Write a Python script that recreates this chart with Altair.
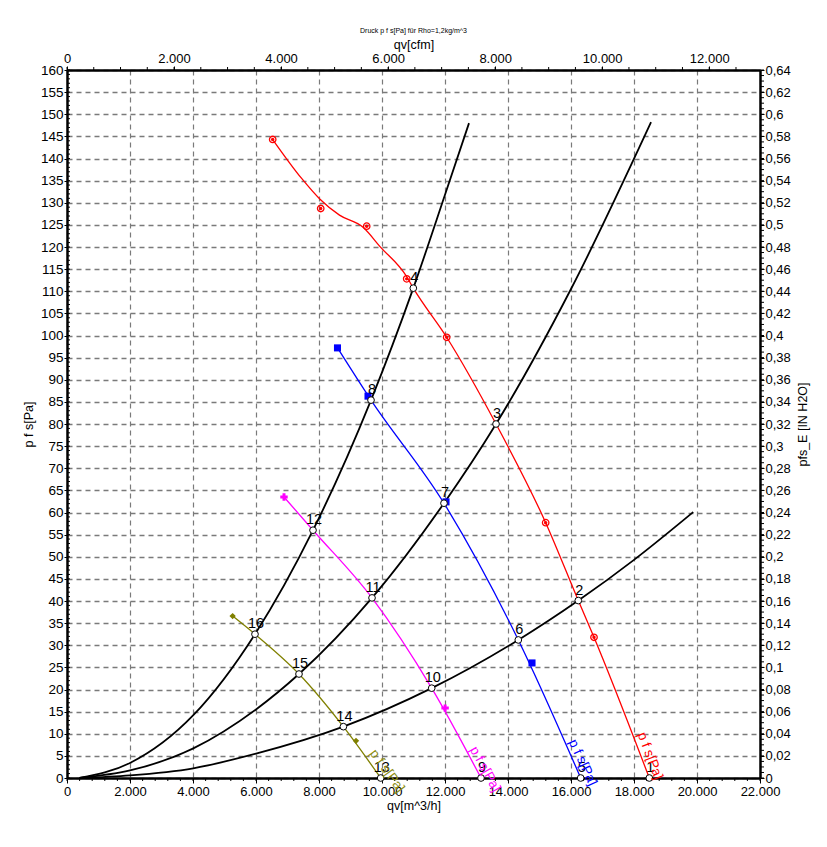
import altair as alt
import pandas as pd
import numpy as np

FONT = "Liberation Sans"

# ---------------- data ----------------
# system curves (black)
sysA_q = [400, 2000, 4010, 5968, 7810, 9651, 10994, 12000, 12762]
sysA_p = [0, 3.4, 14.2, 32.5, 56.0, 85.4, 110.7, 131.8, 148.0]
sysB_q = [400, 2000, 4010, 6000, 7365, 9683, 11968, 13620, 16000, 18541]
sysB_p = [0, 1.7, 6.7, 15.5, 23.5, 40.7, 62.1, 80.0, 110.5, 148.2]
sysC_q = [400, 2000, 4010, 6000, 8774, 11578, 14327, 16232, 18000, 19879]
sysC_p = [0, 0.6, 2.2, 5.5, 11.6, 20.3, 31.2, 40.1, 49.3, 60.1]

# fan curves
red_q = [6530, 7449, 8032, 8650, 9407, 9937, 10784, 10994, 12053, 13620, 15196, 16232, 16730, 18486]
red_p = [144.3, 135.5, 130.8, 127.2, 124.4, 120.1, 113.3, 110.7, 99.6, 80.0, 57.7, 40.1, 31.8, 0]
red_mq = [6530, 8054, 9514, 10784, 12053, 15196, 16730]
red_mp = [144.3, 128.7, 124.7, 112.8, 99.6, 57.7, 31.8]

blue_q = [8587, 9651, 11968, 14327, 16308]
blue_p = [97.2, 85.4, 62.1, 31.2, 0]
blue_mq = [8587, 9556, 12032, 14762]
blue_mp = [97.2, 86.3, 62.4, 26.0]

mag_q = [6889, 7810, 9683, 11578, 13143]
mag_p = [63.5, 56.0, 40.7, 20.3, 0]
mag_mq = [6889, 12003]
mag_mp = [63.5, 15.8]

olv_q = [5258, 5968, 7365, 8774, 9959]
olv_p = [36.6, 32.5, 23.5, 11.6, 0]
olv_mq = [5258, 9175]
olv_mp = [36.6, 8.4]

# operating points
op_id = [str(i) for i in range(1, 17)]
op_q = [18486, 16232, 13620, 10994, 16308, 14327, 11968, 9651,
        13143, 11578, 9683, 7810, 9959, 8774, 7365, 5968]
op_p = [0, 40.1, 80.0, 110.7, 0, 31.2, 62.1, 85.4,
        0, 20.3, 40.7, 56.0, 0, 11.6, 23.5, 32.5]

# curve name labels
lab_text = ["p f s[Pa]"] * 4
lab_q = [18508, 16370, 13270, 10159]
lab_p = [5.0, 3.5, 2.0, 1.6]

x_ticks = list(range(0, 22001, 2000))
y_ticks = list(range(0, 161, 5))
cfm_ticks = list(range(0, 12001, 2000))

M3H_TO_CFM = 0.588578     # top axis conversion
PA_PER_INH = 250.0        # right axis: 0.64 in H2O drawn at 160 Pa

# ---------------- scales / axes ----------------
XS = alt.Scale(domain=[0, 22000], nice=False, zero=False)
YS = alt.Scale(domain=[0, 160], nice=False, zero=False)

common = dict(domainColor="black", domainWidth=2.5, tickColor="black", tickWidth=1,
              labelFont=FONT, labelColor="black", titleFont=FONT, titleColor="black",
              titleFontWeight="normal", labelFlush=False, labelOverlap=False)

x_axis = alt.Axis(orient="bottom", values=x_ticks,
                  labelExpr="replace(format(datum.value, ','), ',', '.')",
                  title="qv[m^3/h]", grid=True, gridDash=[5, 4], gridColor="#7a7a7a",
                  gridWidth=1.2, tickSize=5, labelFontSize=13, labelPadding=2,
                  titleFontSize=12.5, titlePadding=1, **common)
y_axis = alt.Axis(orient="left", values=y_ticks, title="p f s[Pa]", grid=True,
                  gridDash=[5, 4], gridColor="#7a7a7a", gridWidth=1.6, tickSize=3,
                  labelFontSize=13.5, labelPadding=1, titleFontSize=12.5,
                  titlePadding=5, **common)
top_axis = alt.Axis(orient="top", values=[c / M3H_TO_CFM for c in cfm_ticks],
                    labelExpr="replace(format(round(datum.value * 0.588578), ','), ',', '.')",
                    title="qv[cfm]", grid=False, tickSize=4, labelFontSize=13,
                    labelPadding=1, titleFontSize=12.5, titlePadding=1, **common)
right_axis = alt.Axis(orient="right", values=y_ticks,
                      labelExpr="replace(format(datum.value / 250, '.2~f'), '.', ',')",
                      title="pfs_E [IN H2O]", titleAngle=270, titleBaseline="top",
                      grid=False, tickSize=4, labelFontSize=13, labelPadding=1,
                      titleFontSize=12.5, titlePadding=6, **common)


def X(axis=None):
    return alt.X("q:Q", scale=XS, axis=axis)


def Y(axis=None):
    return alt.Y("p:Q", scale=YS, axis=axis)


def frame(q, p, **extra):
    d = pd.DataFrame({"q": q, "p": p})
    for k, v in extra.items():
        d[k] = v
    return d


# ---------------- layers ----------------
sys_df = pd.concat([
    frame(sysA_q, sysA_p, curve="A"),
    frame(sysB_q, sysB_p, curve="B"),
    frame(sysC_q, sysC_p, curve="C"),
])
sys_layer = alt.Chart(sys_df).mark_line(
    color="black", strokeWidth=1.8, interpolate="monotone"
).encode(x=X(x_axis), y=Y(y_axis), detail="curve:N")

fan_specs = [
    (red_q, red_p, red_mq, red_mp, "#ff0000", "circle", 40),
    (blue_q, blue_p, blue_mq, blue_mp, "#0000ff", "square", 50),
    (mag_q, mag_p, mag_mq, mag_mp, "#ff00ff", "cross", 55),
    (olv_q, olv_p, olv_mq, olv_mp, "#808000", "diamond", 40),
]
fan_lines = []
fan_marks = []
for lq, lp, mq, mp, col, shape, size in fan_specs:
    fan_lines.append(alt.Chart(frame(lq, lp)).mark_line(
        color=col, strokeWidth=1.3, interpolate="monotone").encode(x=X(), y=Y()))
    if shape == "circle":
        # ring with a dot inside
        fan_marks.append(alt.Chart(frame(mq, mp)).mark_point(
            color=col, shape="circle", size=42, filled=False, strokeWidth=1.3,
            opacity=1).encode(x=X(), y=Y()))
        fan_marks.append(alt.Chart(frame(mq, mp)).mark_point(
            color=col, shape="circle", size=12, filled=True, opacity=1).encode(x=X(), y=Y()))
    else:
        fan_marks.append(alt.Chart(frame(mq, mp)).mark_point(
            color=col, shape=shape, size=size, filled=True, opacity=1).encode(x=X(), y=Y()))

op_df = frame(op_q, op_p, label=op_id)
op_circles = alt.Chart(op_df).mark_point(
    shape="circle", size=45, filled=True, fill="white", stroke="black",
    strokeWidth=1, opacity=1).encode(x=X(), y=Y())
op_text = alt.Chart(op_df).mark_text(
    dy=-10, dx=1, fontSize=14.5, font=FONT, color="black").encode(
    x=X(), y=Y(), text="label:N")

lab_colors = ["#ff0000", "#0000ff", "#ff00ff", "#8c8c10"]
lab_angles = [69, 65, 61, 54]
curve_labels = []
for t, q, p, c, a in zip(lab_text, lab_q, lab_p, lab_colors, lab_angles):
    curve_labels.append(alt.Chart(frame([q], [p], t=[t])).mark_text(
        angle=a, color=c, fontSize=13.5, font=FONT, align="center", baseline="middle"
    ).encode(x=X(), y=Y(), text="t:N"))

# minor ticks
minor_x = alt.Chart(pd.DataFrame({"q": np.arange(0, 22001, 400)})).mark_rule(
    color="black", strokeWidth=1).encode(x=X(), y=alt.value(708), y2=alt.value(711))
minor_y = alt.Chart(pd.DataFrame({"p": np.arange(0, 161, 1)})).mark_rule(
    color="black", strokeWidth=1).encode(y=Y(), x=alt.value(0), x2=alt.value(3))

# secondary axes: cfm on top, inH2O on right (same scales, converted labels)
top_minor = alt.Chart(pd.DataFrame(
    {"q": np.arange(0, 22000 * M3H_TO_CFM, 500) / M3H_TO_CFM})).mark_rule(
    color="black", strokeWidth=1).encode(
    x=X(top_axis), y=alt.value(0), y2=alt.value(-3))
right_minor = alt.Chart(pd.DataFrame(
    {"p": np.arange(0, 0.6401, 0.005) * PA_PER_INH})).mark_rule(
    color="black", strokeWidth=1).encode(
    y=Y(right_axis), x=alt.value(693), x2=alt.value(697))

chart = alt.layer(
    sys_layer, minor_x, minor_y, *fan_lines, *fan_marks,
    op_circles, op_text, *curve_labels, top_minor, right_minor
).resolve_axis(x="independent", y="independent").properties(
    width=693, height=708,
    padding={"left": 59, "top": 62, "right": 59, "bottom": 61},
    autosize=alt.AutoSizeParams(type="none"),
    title=alt.TitleParams("Druck p f s[Pa] für Rho=1,2kg/m^3", fontSize=7, font=FONT,
                          fontWeight="normal", color="black", offset=4, anchor="middle"),
).configure_view(stroke=None).configure(background="white")

chart.save("out.html", embed_options={"renderer": "svg", "actions": False})
